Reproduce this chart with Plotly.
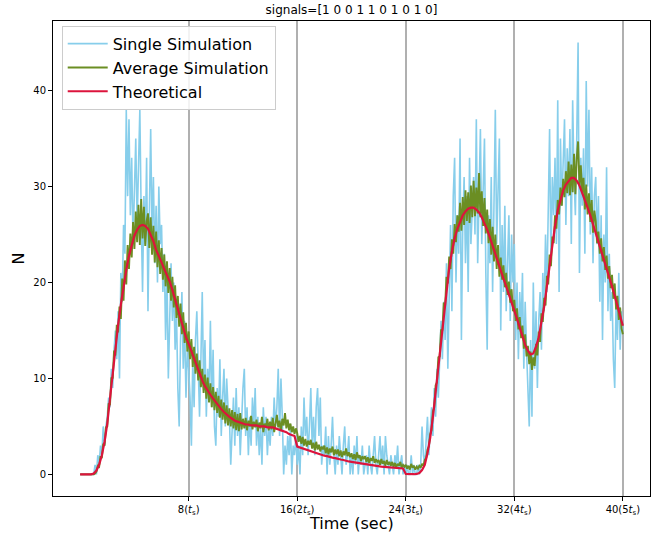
import numpy as np
import plotly.graph_objects as go

# Sampling steps of the series (seconds)
DT_SIM = 0.1
DT_THEORY = 0.2

# One stochastic trajectory, sampled every 0.1 s (one row per second)
single_sim = [
    0, 0, 0, 0, 0, 0, 0, 0, 0, 0,
    0, 1, 0, 2, 1, 3, 2, 5, 3, 5,
    6, 8, 7, 11, 9, 13, 15, 12, 17, 10,
    21, 18, 26, 23, 38, 29, 37, 27, 33, 24,
    30, 35, 26, 31, 38, 27, 19, 29, 24, 33,
    17, 27, 36, 25, 31, 22, 28, 20, 30, 24,
    26, 19, 23, 14, 21, 10, 18, 22, 16, 20,
    13, 17, 9, 5, 14, 19, 11, 16, 8, 13,
    11, 8, 3, 12, 7, 14, 17, 10, 6, 12,
    19, 9, 14, 6, 11, 8, 16, 7, 13, 5,
    3, 9, 6, 12, 4, 8, 11, 5, 10, 7,
    6, 1, 5, 8, 3, 9, 4, 7, 2, 6,
    9, 11, 4, 7, 2, 6, 3, 8, 5, 9,
    3, 6, 2, 5, 1, 7, 4, 6, 2, 5,
    3, 6, 4, 8, 5, 7, 11, 4, 10, 6,
    0, 3, 1, 4, 2, 5, 0, 3, 2, 4,
    1, 3, 0, 5, 2, 8, 4, 6, 2, 5,
    9, 3, 6, 2, 7, 9, 4, 8, 1, 3,
    2, 5, 0, 4, 1, 3, 6, 2, 0, 3,
    1, 4, 2, 0, 3, 5, 1, 2, 4, 0,
    2, 0, 3, 1, 4, 0, 2, 1, 3, 0,
    1, 2, 0, 3, 1, 0, 2, 4, 1, 0,
    2, 4, 1, 3, 0, 4, 2, 1, 0, 2,
    1, 0, 2, 1, 3, 0, 1, 2, 0, 1,
    0, 1, 0, 0, 2, 0, 1, 0, 0, 1,
    0, 1, 5, 2, 1, 3, 6, 2, 4, 7,
    4, 9, 6, 11, 8, 13, 16, 12, 18, 14,
    22, 11, 19, 26, 17, 29, 33, 20, 27, 23,
    35, 14, 26, 31, 22, 29, 19, 33, 24, 28,
    31, 25, 37, 22, 30, 36, 24, 29, 35, 21,
    13, 27, 22, 31, 19, 28, 38, 24, 30, 35,
    15, 26, 19, 28, 17, 23, 27, 16, 25, 20,
    24, 14, 20, 12, 19, 15, 21, 11, 18, 13,
    9, 5, 14, 6, 20, 11, 17, 9, 16, 19,
    13, 21, 17, 25, 19, 29, 36, 22, 31, 27,
    33, 24, 39, 19, 35, 28, 32, 37, 26, 34,
    29, 36, 24, 39, 31, 27, 35, 45, 21, 33,
    28, 34, 23, 41, 30, 38, 25, 32, 22, 29,
    31, 24, 29, 18, 27, 14, 25, 20, 32, 17,
    23, 16, 19, 12, 9, 18, 14, 21, 13, 17,
    15,
]

# Mean over many trajectories, sampled every 0.1 s
average_sim = [
    0, 0, 0, 0, 0, 0, 0, 0, 0, 0,
    0.0, 0.1, 0.3, 0.9, 0.8, 1.9, 1.7, 3.2, 3.0, 4.9,
    5.0, 7.4, 7.2, 10.1, 10.0, 12.9, 12.4, 15.6, 14.8, 17.5,
    16.2, 20.4, 18.1, 22.3, 19.8, 23.9, 21.4, 25.1, 22.6, 26.3,
    23.5, 27.4, 24.2, 28.1, 23.9, 28.7, 24.6, 27.9, 23.8, 26.4,
    27.2, 23.6, 26.8, 22.9, 25.9, 22.1, 25.3, 21.6, 24.4, 20.9,
    23.6, 20.3, 22.9, 19.6, 22.2, 18.9, 21.5, 18.1, 20.6, 17.4,
    19.7, 16.3, 18.6, 15.4, 17.8, 14.6, 16.9, 13.7, 15.8, 12.8,
    14.9, 12.0, 14.1, 11.2, 13.3, 10.5, 12.6, 9.8, 11.9, 9.1,
    11.0, 8.5, 10.4, 7.9, 10.1, 7.5, 9.5, 7.0, 9.1, 6.7,
    8.6, 6.4, 8.2, 5.9, 7.8, 5.7, 7.5, 5.3, 7.2, 5.1,
    6.9, 5.0, 6.7, 4.8, 6.5, 4.6, 6.3, 4.5, 6.4, 4.7,
    5.8, 4.8, 5.9, 4.6, 5.6, 5.0, 6.1, 4.7, 5.5, 4.9,
    5.7, 4.5, 5.4, 4.8, 6.0, 4.4, 5.3, 4.9, 5.8, 4.6,
    5.5, 4.7, 5.9, 4.4, 5.2, 6.2, 4.9, 5.6, 4.5, 5.8,
    5.1, 6.4, 4.8, 5.7, 4.6, 5.3, 4.4, 5.0, 4.2, 4.8,
    4.3, 3.4, 4.0, 3.2, 3.9, 3.0, 3.7, 2.9, 3.5, 3.1,
    3.6, 2.7, 3.3, 2.5, 3.4, 2.6, 3.1, 2.4, 2.9, 2.6,
    3.0, 2.2, 2.8, 2.1, 2.7, 2.3, 2.9, 2.0, 2.6, 2.1,
    2.6, 1.9, 2.5, 1.8, 2.4, 2.0, 2.7, 1.9, 2.3, 1.8,
    2.2, 1.6, 2.1, 1.5, 2.3, 1.7, 2.0, 1.4, 1.9, 1.6,
    1.9, 1.3, 1.8, 1.2, 1.7, 1.4, 1.9, 1.2, 1.6, 1.3,
    1.5, 1.0, 1.6, 1.1, 1.4, 0.9, 1.5, 1.0, 1.3, 0.9,
    1.3, 0.8, 1.2, 0.7, 1.1, 0.9, 1.3, 0.7, 1.0, 0.8,
    1.0, 0.6, 0.9, 0.5, 1.1, 0.7, 0.9, 0.5, 0.8, 0.6,
    0.9, 0.7, 1.1, 0.9, 1.5, 1.7, 2.6, 2.9, 4.2, 4.6,
    6.6, 7.0, 9.3, 9.6, 12.2, 12.3, 15.1, 15.0, 17.9, 17.6,
    20.6, 19.9, 22.7, 21.4, 24.5, 23.0, 26.1, 24.2, 27.0, 25.3,
    28.3, 25.4, 28.9, 26.0, 29.6, 26.4, 29.4, 26.2, 30.1, 26.8,
    30.6, 26.9, 29.9, 27.2, 31.4, 26.8, 29.5, 25.9, 28.8, 25.1,
    27.6, 24.1, 26.6, 22.9, 25.8, 22.2, 25.0, 21.4, 23.9, 20.6,
    22.6, 20.3, 21.8, 19.5, 21.0, 18.7, 20.1, 17.9, 19.3, 17.0,
    18.2, 16.0, 17.3, 15.1, 16.4, 14.2, 15.5, 13.1, 14.6, 12.3,
    13.4, 11.5, 12.8, 10.9, 12.2, 11.3, 13.6, 12.4, 14.9, 13.8,
    16.8, 15.9, 18.4, 17.6, 20.7, 19.8, 22.9, 21.7, 24.8, 24.1,
    27.0, 25.6, 28.6, 27.1, 29.9, 28.0, 30.8, 28.9, 31.6, 29.3,
    32.6, 29.1, 32.3, 29.4, 33.4, 29.2, 33.0, 34.7, 30.1, 32.2,
    29.4, 30.9, 27.6, 30.2, 27.1, 29.3, 26.3, 28.6, 25.2, 27.5,
    26.4, 24.1, 25.3, 23.0, 24.6, 22.2, 23.7, 21.3, 22.8, 20.4,
    21.7, 19.4, 20.8, 18.3, 19.9, 17.2, 18.6, 16.1, 17.4, 15.2,
    14.6,
]

# Deterministic model, sampled every 0.2 s (one row per 2 s)
theoretical = [
    0, 0, 0, 0, 0, 0.1, 0.4, 1.0, 2.0, 3.4,
    5.3, 7.9, 10.6, 13.2, 15.6, 17.7, 19.6, 21.3, 22.8, 24.0,
    24.9, 25.5, 25.9, 26.0, 25.9, 25.6, 25.0, 24.3, 23.4, 22.8,
    22.1, 21.4, 20.8, 20.1, 19.2, 18.2, 17.2, 16.1, 15.2, 14.3,
    13.6, 12.8, 12.0, 11.2, 10.5, 9.8, 9.2, 8.7, 8.3, 7.9,
    7.5, 7.1, 6.8, 6.5, 6.2, 6.0, 5.8, 5.6, 5.5, 5.4,
    5.3, 5.2, 5.2, 5.1, 5.1, 5.1, 5.0, 5.0, 5.0, 4.9,
    4.9, 4.9, 4.8, 4.7, 4.6, 4.5, 4.4, 4.2, 4.1, 4.0,
    2.9, 2.8, 2.7, 2.6, 2.5, 2.4, 2.3, 2.2, 2.1, 2.0,
    1.95, 1.9, 1.8, 1.75, 1.7, 1.6, 1.55, 1.5, 1.4, 1.35,
    1.3, 1.25, 1.2, 1.15, 1.1, 1.05, 1.0, 0.95, 0.92, 0.89,
    0.85, 0.82, 0.79, 0.76, 0.73, 0.7, 0.68, 0.66, 0.64, 0.62,
    0.05, 0.02, 0.02, 0.02, 0.05, 0.15, 0.45, 1.0, 2.2, 3.8,
    6.0, 8.6, 11.4, 14.3, 17.0, 19.5, 21.5, 23.2, 24.6, 25.6,
    26.4, 27.0, 27.4, 27.7, 27.8, 27.8, 27.6, 27.3, 26.8, 26.2,
    25.5, 24.7, 23.8, 22.9, 22.0, 21.2, 20.4, 19.6, 18.8, 18.0,
    17.1, 16.2, 15.3, 14.4, 13.5, 12.9, 12.5, 12.6, 13.3, 14.3,
    15.7, 17.5, 19.6, 21.8, 24.0, 25.9, 27.5, 28.7, 29.6, 30.2,
    30.6, 30.9, 30.9, 30.6, 30.1, 29.4, 28.6, 27.8, 27.0, 26.1,
    25.2, 24.3, 23.4, 22.5, 21.6, 20.6, 19.6, 18.6, 17.5, 16.5,
    15.5,
]

signals = [1, 0, 0, 1, 1, 0, 1, 0, 1, 0]
switch_times = [8, 16, 24, 32, 40]
switch_labels = ["8(<i>t</i><sub>s</sub>)", "16(2<i>t</i><sub>s</sub>)",
                 "24(3<i>t</i><sub>s</sub>)", "32(4<i>t</i><sub>s</sub>)",
                 "40(5<i>t</i><sub>s</sub>)"]
n_ticks = [0, 10, 20, 30, 40]

t_sim = np.round(np.arange(len(single_sim)) * DT_SIM, 2)
t_avg = np.round(np.arange(len(average_sim)) * DT_SIM, 2)
t_theory = np.round(np.arange(len(theoretical)) * DT_THEORY, 2)

FONT = "DejaVu Sans"

fig = go.Figure()
fig.add_trace(go.Scatter(x=t_sim, y=single_sim, mode="lines", name="Single Simulation",
                         line=dict(color="#87ceeb", width=1.6)))
fig.add_trace(go.Scatter(x=t_avg, y=average_sim, mode="lines", name="Average Simulation",
                         line=dict(color="#6b8e23", width=1.9)))
fig.add_trace(go.Scatter(x=t_theory, y=theoretical, mode="lines", name="Theoretical",
                         line=dict(color="#dc143c", width=2.2)))

title_text = "signals=[" + " ".join(str(s) for s in signals) + "]"

fig.update_layout(
    width=665, height=537,
    margin=dict(l=53, r=15, t=21, b=41),
    paper_bgcolor="white", plot_bgcolor="white",
    font=dict(family=FONT, color="black"),
    title=dict(text=title_text, x=(53 + 650) / 2 / 665, xanchor="center",
               y=1 - 10 / 537, yanchor="middle", yref="container",
               font=dict(size=12, family=FONT, color="black")),
    showlegend=True,
    legend=dict(x=0.0146, y=0.99, xanchor="left", yanchor="top",
                itemwidth=40,
                bgcolor="rgba(255,255,255,0.85)", bordercolor="#cccccc", borderwidth=1,
                font=dict(size=16, family=FONT, color="black")),
    xaxis=dict(range=[-2, 42], tickvals=switch_times, ticktext=switch_labels,
               ticks="outside", ticklen=4, tickcolor="black", tickwidth=1,
               showline=True, linecolor="black", linewidth=1, mirror=True,
               showgrid=True, gridcolor="#b0b0b0", gridwidth=2, zeroline=False,
               tickfont=dict(size=10, family=FONT, color="black")),
    yaxis=dict(range=[-2.25, 47.25], tickvals=n_ticks,
               ticks="outside", ticklen=4, tickcolor="black", tickwidth=1,
               showline=True, linecolor="black", linewidth=1, mirror=True,
               showgrid=False, zeroline=False,
               tickfont=dict(size=10, family=FONT, color="black")),
    annotations=[
        dict(text="Time (sec)", xref="paper", yref="paper", x=0.5, y=-27 / 475,
             xanchor="center", yanchor="middle", showarrow=False,
             font=dict(size=16, family=FONT, color="black")),
        dict(text="N", xref="paper", yref="paper", x=-35 / 597, y=0.5,
             xanchor="center", yanchor="middle", showarrow=False, textangle=-90,
             font=dict(size=16, family=FONT, color="black")),
    ],
)

fig.write_html("out.html")
